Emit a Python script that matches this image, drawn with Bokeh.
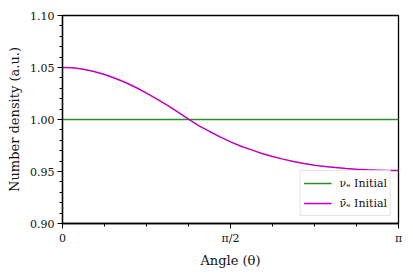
import math
from bokeh.plotting import figure
from bokeh.models import FixedTicker, CustomJSTickFormatter, NumeralTickFormatter, Legend, LegendItem, Range1d
from bokeh.embed import file_html
from bokeh.resources import INLINE

PI = math.pi
# angles in units of pi/32
angle_steps = list(range(33))
nu_e_initial = [1.000] * 33
nubar_e_initial = [1.0500, 1.0497, 1.0484, 1.0462, 1.0433, 1.0397, 1.0356, 1.0308,
                   1.0253, 1.0195, 1.0135, 1.0070, 1.0003, 0.9939, 0.9885, 0.9833,
                   0.9785, 0.9743, 0.9708, 0.9673, 0.9644, 0.9619, 0.9596, 0.9577,
                   0.9561, 0.9548, 0.9538, 0.9529, 0.9522, 0.9516, 0.9513, 0.9510,
                   0.9510]
angles = [k * PI / 32 for k in angle_steps]

y_major = [0.90, 0.95, 1.00, 1.05, 1.10]
y_minor = [round(0.90 + 0.01 * i, 2) for i in range(21)]
x_major = [0, PI / 2, PI]
x_minor = [k * PI / 8 for k in range(9)]

FONT = "DejaVu Serif"
TXT = "#111111"

p = figure(frame_width=336, frame_height=208, output_backend="svg", toolbar_location=None,
           x_range=Range1d(0, PI), y_range=Range1d(0.90, 1.10),
           min_border_left=62, min_border_right=14, min_border_top=15, min_border_bottom=51)

r1 = p.line(angles, nu_e_initial, line_color="#279327", line_width=1.5)
r2 = p.line(angles, nubar_e_initial, line_color="#c000c0", line_width=1.5)

p.grid.visible = False
p.outline_line_color = "black"
p.outline_line_width = 1.3
p.outline_line_alpha = 1.0

p.xaxis.ticker = FixedTicker(ticks=x_major, minor_ticks=x_minor)
p.xaxis.formatter = CustomJSTickFormatter(code="""
if (Math.abs(tick) < 1e-6) return "0";
if (Math.abs(tick - Math.PI/2) < 1e-6) return "π/2";
if (Math.abs(tick - Math.PI) < 1e-6) return "π";
return "";
""")
p.yaxis.ticker = FixedTicker(ticks=y_major, minor_ticks=y_minor)
p.yaxis.formatter = NumeralTickFormatter(format="0.00")

p.xaxis.axis_label = "Angle (θ)"
p.yaxis.axis_label = "Number density (a.u.)"

for ax in (p.xaxis, p.yaxis):
    ax.axis_line_color = "black"
    ax.axis_line_width = 1.3
    ax.major_tick_line_color = "black"
    ax.minor_tick_line_color = "black"
    ax.major_tick_out = 5
    ax.major_tick_in = 0
    ax.minor_tick_out = 3
    ax.minor_tick_in = 0
    ax.major_label_text_font = FONT
    ax.major_label_text_font_size = "11px"
    ax.major_label_text_color = TXT
    ax.major_label_standoff = 3
    ax.axis_label_text_font = FONT
    ax.axis_label_text_font_size = "13px"
    ax.axis_label_text_font_style = "normal"
    ax.axis_label_text_color = TXT
    ax.axis_label_standoff = 5

legend = Legend(items=[LegendItem(label="νₑ Initial", renderers=[r1]),
                       LegendItem(label="ν̄ₑ Initial", renderers=[r2])],
                location="bottom_right")
legend.label_text_font = FONT
legend.label_text_font_size = "11px"
legend.label_text_color = TXT
legend.glyph_width = 28
legend.glyph_height = 18
legend.label_height = 18
legend.label_standoff = 8
legend.spacing = 2
legend.padding = 3
legend.margin = 7
legend.border_line_color = "#cccccc"
legend.border_line_width = 1
legend.background_fill_alpha = 0.8
p.add_layout(legend)

open("out.html", "w").write(file_html(p, INLINE))
